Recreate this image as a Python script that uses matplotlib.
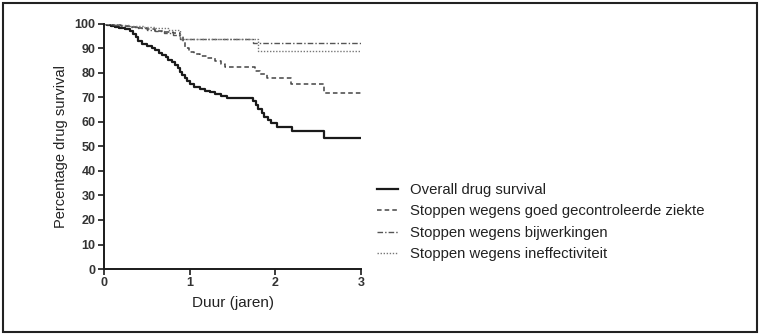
import matplotlib
matplotlib.use("Agg")
import matplotlib.pyplot as plt
from matplotlib.patches import Rectangle

plt.rcParams['font.family'] = ['Liberation Sans', 'DejaVu Sans']

# Kaplan-Meier style step data (years, percentage)
overall_t = [0, 0.04, 0.08, 0.13, 0.18, 0.24, 0.30, 0.34, 0.37, 0.40, 0.44, 0.50, 0.56,
             0.60, 0.64, 0.68, 0.72, 0.75, 0.79, 0.83, 0.86, 0.89, 0.91, 0.94, 0.97,
             1.00, 1.05, 1.12, 1.18, 1.24, 1.30, 1.36, 1.43, 1.74, 1.77, 1.80, 1.84,
             1.87, 1.91, 1.95, 2.02, 2.19, 2.57, 3.0]
overall_s = [100, 99.6, 99.2, 98.8, 98.4, 97.9, 97.2, 96.0, 94.6, 93.2, 92.0, 91.0, 90.2,
             89.2, 88.2, 87.3, 86.4, 85.4, 84.4, 83.2, 82.0, 80.6, 79.2, 77.8, 76.6,
             75.4, 74.4, 73.6, 72.8, 72.2, 71.6, 70.8, 69.8, 68.4, 67.0, 65.4, 63.8,
             62.2, 60.8, 59.4, 58.0, 56.2, 53.6, 53.6]

goed_t = [0, 0.1, 0.2, 0.3, 0.4, 0.5, 0.6, 0.7, 0.8, 0.89, 0.92, 0.95, 0.99, 1.05,
          1.12, 1.20, 1.30, 1.36, 1.41, 1.76, 1.82, 1.90, 2.18, 2.57, 3.0]
goed_s = [100, 99.5, 99.0, 98.6, 98.2, 97.8, 97.3, 96.8, 96.2, 95.0, 92.6, 90.4, 88.6,
          87.8, 87.0, 86.0, 84.8, 83.6, 82.4, 80.8, 79.6, 78.0, 75.4, 71.8, 71.8]

bijw_t = [0, 0.1, 0.2, 0.3, 0.4, 0.5, 0.6, 0.7, 0.8, 0.89, 1.74, 3.0]
bijw_s = [100, 99.6, 99.2, 98.8, 98.2, 97.6, 97.0, 96.4, 95.6, 94.0, 92.2, 92.2]

ineff_t = [0, 0.15, 0.3, 0.45, 0.6, 0.75, 0.89, 1.80, 3.0]
ineff_s = [100, 99.6, 99.2, 98.8, 98.2, 97.4, 94.0, 89.0, 89.0]

labels = ["Overall drug survival",
          "Stoppen wegens goed gecontroleerde ziekte",
          "Stoppen wegens bijwerkingen",
          "Stoppen wegens ineffectiviteit"]

fig = plt.figure(figsize=(7.61, 3.36), dpi=100)
ax = fig.add_axes([0.1367, 0.1994, 0.3377, 0.7292])

ax.step(overall_t, overall_s, where='post', color='#1a1a1a', lw=1.6, label=labels[0])
ax.step(goed_t, goed_s, where='post', color='#444444', lw=1.1,
        linestyle=(0, (3, 2)), label=labels[1])
ax.step(bijw_t, bijw_s, where='post', color='#555555', lw=1.0,
        linestyle=(0, (4, 1.5, 1, 1.5)), label=labels[2])
ax.step(ineff_t, ineff_s, where='post', color='#777777', lw=1.0,
        linestyle=(0, (1, 1.2)), label=labels[3])

ax.set_xlim(0, 3)
ax.set_ylim(0, 100)
ax.set_xticks([0, 1, 2, 3])
ax.set_yticks(range(0, 101, 10))
for side in ['top', 'right']:
    ax.spines[side].set_visible(False)
for side in ['left', 'bottom']:
    ax.spines[side].set_linewidth(1.4)
    ax.spines[side].set_color('#1a1a1a')
ax.tick_params(direction='out', length=4, width=1.2, colors='#1a1a1a',
               labelsize=9, pad=2)
for lab in ax.get_xticklabels() + ax.get_yticklabels():
    lab.set_fontweight('bold')
    lab.set_color('#333333')

ax.set_xlabel("Duur (jaren)", fontsize=11, color='#222222', labelpad=5)
ax.set_ylabel("Percentage drug survival", fontsize=10.5, color='#222222', labelpad=5)

leg = ax.legend(loc='upper left', bbox_to_anchor=(1.04, 0.375), frameon=False,
                fontsize=10.7, handlelength=1.4, handletextpad=0.8,
                labelspacing=0.5, borderaxespad=0)
for t in leg.get_texts():
    t.set_color('#222222')

# outer frame around the figure
fig.patches.append(Rectangle((0.004, 0.012), 0.991, 0.979, transform=fig.transFigure,
                             fill=False, edgecolor='#222222', lw=1.5))

fig.savefig("out.png", dpi=100)
